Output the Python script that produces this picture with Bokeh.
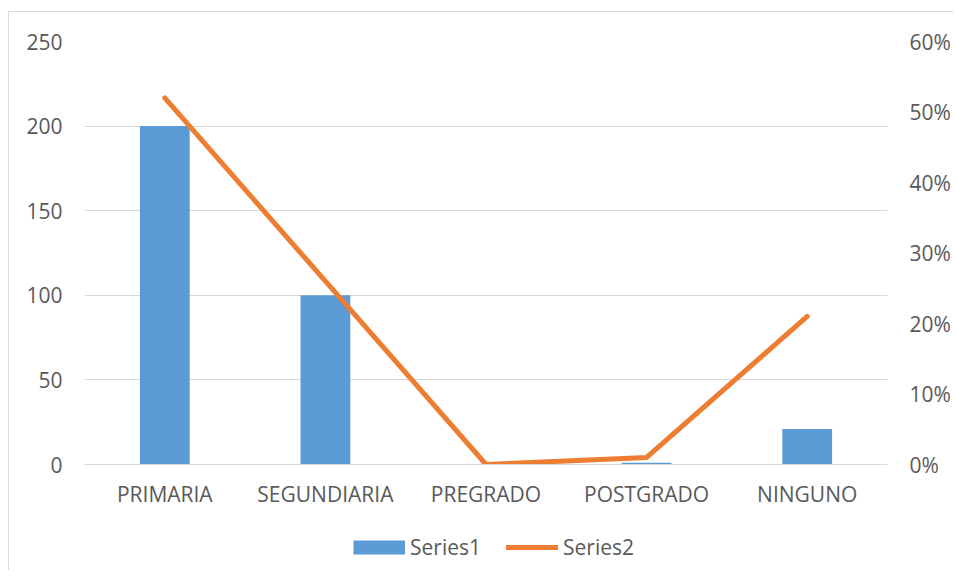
from bokeh.plotting import figure
from bokeh.layouts import column
from bokeh.models import Range1d, LinearAxis, NumeralTickFormatter, FixedTicker, Legend, LegendItem, ColumnDataSource
from bokeh.embed import file_html
from bokeh.resources import INLINE

categories = ["PRIMARIA", "SEGUNDIARIA", "PREGRADO", "POSTGRADO", "NINGUNO"]
series1 = [200, 100, 0, 1, 21]
series2 = [0.52, 0.26, 0.0, 0.01, 0.21]
left_ticks = [0, 50, 100, 150, 200, 250]
right_ticks = [0, 0.1, 0.2, 0.3, 0.4, 0.5, 0.6]
series_names = ["Series1", "Series2"]

FONT = "Open Sans"
FS = "21px"
TXT = "#595959"
GRID = "#D9D9D9"
BLUE = "#5B9BD5"
ORANGE = "#ED7D31"

src = ColumnDataSource(dict(cat=categories, s1=series1, s2=series2))

p = figure(x_range=categories, y_range=Range1d(0, 250),
           frame_width=803, frame_height=423,
           min_border_left=75, min_border_right=62, min_border_top=29, min_border_bottom=50,
           output_backend="svg", toolbar_location=None)
p.x_range.range_padding = 0
p.outline_line_color = None
p.xgrid.grid_line_color = None
p.ygrid.grid_line_color = GRID
p.ygrid.grid_line_width = 1
p.ygrid.ticker = FixedTicker(ticks=left_ticks)

p.extra_y_ranges = {"pct": Range1d(0, 0.6)}

bars = p.vbar(x="cat", top="s1", width=0.31, source=src, fill_color=BLUE, line_color=None)
line = p.line(x="cat", y="s2", source=src, y_range_name="pct", line_color=ORANGE,
              line_width=5, line_join="round", line_cap="round")

ya = p.yaxis[0]
ya.ticker = FixedTicker(ticks=left_ticks)
ya.axis_line_color = None
ya.major_tick_line_color = None
ya.minor_tick_line_color = None
ya.major_tick_out = 0
ya.major_label_standoff = 22
ya.major_label_text_font = FONT
ya.major_label_text_font_size = FS
ya.major_label_text_color = TXT

ra = LinearAxis(y_range_name="pct", ticker=FixedTicker(ticks=right_ticks),
                formatter=NumeralTickFormatter(format="0%"))
ra.axis_line_color = None
ra.major_tick_line_color = None
ra.minor_tick_line_color = None
ra.major_tick_out = 0
ra.major_label_standoff = 22
ra.major_label_text_font = FONT
ra.major_label_text_font_size = FS
ra.major_label_text_color = TXT
p.add_layout(ra, "right")

xa = p.xaxis[0]
xa.axis_line_color = GRID
xa.major_tick_line_color = None
xa.minor_tick_line_color = None
xa.major_tick_out = 0
xa.major_label_standoff = 15
xa.major_label_text_font = FONT
xa.major_label_text_font_size = FS
xa.major_label_text_color = TXT

# legend strip: hidden copies of the two series supply the legend glyphs
lg = figure(frame_width=940, frame_height=56, min_border=0,
            x_axis_type=None, y_axis_type=None,
            x_range=p.x_range, y_range=Range1d(0, 1),
            output_backend="svg", toolbar_location=None)
lg.outline_line_color = None
lg.xgrid.grid_line_color = None
lg.ygrid.grid_line_color = None
# blue legend swatch: a thick butt-capped stroke gives the solid 52x14 block
lb = lg.line(x="cat", y="s1", source=src, line_color=BLUE, line_width=14, line_cap="butt", visible=False)
ll = lg.line(x="cat", y="s2", source=src, line_color=ORANGE, line_width=5, line_cap="round", visible=False)
legend = Legend(items=[LegendItem(label=series_names[0], renderers=[lb]),
                       LegendItem(label=series_names[1], renderers=[ll])],
                orientation="horizontal", location=(344, 9),
                glyph_width=52, glyph_height=16, label_standoff=5, spacing=25,
                label_text_font=FONT, label_text_font_size=FS, label_text_color=TXT,
                inactive_fill_alpha=0,
                border_line_color=None, background_fill_alpha=0, margin=0, padding=0)
lg.add_layout(legend, "center")

layout = column(p, lg, spacing=0,
                styles={"border-left": "1px solid #D9D9D9", "border-top": "1px solid #D9D9D9",
                        "margin-top": "11px", "margin-left": "8px"})

open("out.html", "w").write(file_html(layout, INLINE))
